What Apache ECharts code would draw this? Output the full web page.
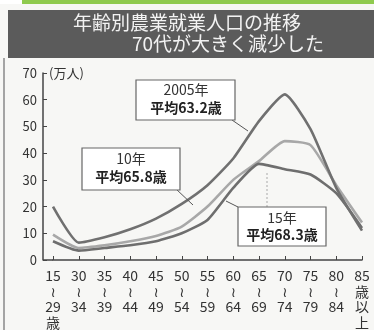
<!DOCTYPE html>
<html><head><meta charset="utf-8">
<script src="https://cdn.jsdelivr.net/npm/echarts@6/dist/echarts.min.js"></script>
<style>html,body{margin:0;padding:0;background:#f7f7f5;}#c{width:374px;height:330px;}</style>
</head><body><div id="c"></div>
<script>
const categories = ['15～29歳','30～34歳','35～39歳','40～44歳','45～49歳','50～54歳','55～59歳','60～64歳','65～69歳','70～74歳','75～79歳','80～84歳','85歳以上'];
const tickLabels = ['15\n≀\n29\n歳','30\n≀\n34','35\n≀\n39','40\n≀\n44','45\n≀\n49','50\n≀\n54','55\n≀\n59','60\n≀\n64','65\n≀\n69','70\n≀\n74','75\n≀\n79','80\n≀\n84','85\n歳\n以\n上'];
const y2005 = [20, 6.5, 8.5, 11.5, 15.5, 21, 28, 38, 52, 62, 49, 27, 11];
const y2010 = [9.5, 4.5, 5.5, 7, 9, 12.5, 20, 30, 37, 44.5, 43, 28, 14];
const y2015 = [7, 3.5, 4.5, 5.5, 7, 10, 15, 27, 36, 34, 32, 25, 12];
const yTicks = [0, 10, 20, 30, 40, 50, 60, 70];

const chart = echarts.init(document.getElementById('c'), null, {renderer: 'canvas'});
const jp = '"Noto Sans CJK JP", "DejaVu Sans", sans-serif';
function line(name, data, color, z) {
  return {
    name, type: 'line', data, symbol: 'none', smooth: 0.18, z,
    lineStyle: {color, width: 2.6}
  };
}
chart.setOption({
  animation: false,
  backgroundColor: '#f7f7f5',
  grid: {left: 53, right: 12, top: 73, bottom: 70, show: false},
  xAxis: {
    type: 'category', data: categories, boundaryGap: false,
    axisLine: {lineStyle: {color: '#444', width: 1.5}},
    axisTick: {inside: true, length: 4, lineStyle: {color: '#444'}, alignWithLabel: true},
    axisLabel: {
      interval: 0, margin: 8, fontFamily: jp, fontSize: 14, lineHeight: 15.5, color: '#333',
      formatter: (v, i) => tickLabels[i], verticalAlign: 'top'
    },
    splitLine: {show: false}
  },
  yAxis: {
    type: 'value', min: yTicks[0], max: yTicks[yTicks.length - 1], interval: 10, offset: 10,
    axisLine: {show: true, lineStyle: {color: '#444', width: 1.5}},
    axisTick: {show: true, inside: true, length: 4, lineStyle: {color: '#444'}},
    axisLabel: {fontFamily: jp, fontSize: 13, color: '#333', margin: 6},
    splitLine: {show: false}
  },
  series: [
    line('2010', y2010, '#a8a8a8', 2),
    line('2015', y2015, '#6e6e6e', 3),
    line('2005', y2005, '#707070', 4)
  ],
  graphic: [
    {type: 'rect', shape: {x: 0, y: 0, width: 374, height: 4}, style: {fill: '#ffffff'}, z: 0},
    {type: 'rect', shape: {x: 22, y: 0, width: 352, height: 4}, style: {fill: '#8fca4e'}, z: 1},
    {type: 'rect', shape: {x: 8, y: 10, width: 366, height: 48}, style: {fill: '#5b5b5b'}, z: 1},
    {type: 'text', x: 187, y: 23, style: {text: '年齢別農業就業人口の推移', fill: '#f2f2f2', font: '19px ' + jp, align: 'center', verticalAlign: 'middle'}, z: 2},
    {type: 'text', x: 228, y: 44, style: {text: '70代が大きく減少した', fill: '#f2f2f2', font: '19px ' + jp, align: 'center', verticalAlign: 'middle'}, z: 2},
    {type: 'line', shape: {x1: 4, y1: 58, x2: 4, y2: 330}, style: {stroke: '#888', lineWidth: 1.5}, z: 1},
    {type: 'line', shape: {x1: 43, y1: 260, x2: 53, y2: 260}, style: {stroke: '#444', lineWidth: 1.5}, z: 5},
    {type: 'text', x: 49, y: 73, style: {text: '(万人)', fill: '#333', font: '13px ' + jp, align: 'left', verticalAlign: 'middle'}, z: 5},
    {type: 'line', shape: {x1: 232, y1: 120, x2: 248, y2: 131}, style: {stroke: '#555', lineWidth: 1}, z: 6},
    {type: 'rect', shape: {x: 136, y: 80, width: 99, height: 40}, style: {fill: '#fff', stroke: '#666', lineWidth: 1.2}, z: 7},
    {type: 'text', x: 186, y: 90, style: {text: '2005年', fill: '#333', font: '14px ' + jp, align: 'center', verticalAlign: 'middle'}, z: 8},
    {type: 'text', x: 186, y: 108, style: {text: '平均63.2歳', fill: '#222', font: 'bold 14px ' + jp, align: 'center', verticalAlign: 'middle'}, z: 8},
    {type: 'line', shape: {x1: 176, y1: 189, x2: 193, y2: 205}, style: {stroke: '#555', lineWidth: 1}, z: 6},
    {type: 'rect', shape: {x: 82, y: 148, width: 98, height: 42}, style: {fill: '#fff', stroke: '#666', lineWidth: 1.2}, z: 7},
    {type: 'text', x: 131, y: 159, style: {text: '10年', fill: '#333', font: '14px ' + jp, align: 'center', verticalAlign: 'middle'}, z: 8},
    {type: 'text', x: 131, y: 177, style: {text: '平均65.8歳', fill: '#222', font: 'bold 14px ' + jp, align: 'center', verticalAlign: 'middle'}, z: 8},
    {type: 'line', shape: {x1: 238, y1: 207, x2: 226, y2: 201}, style: {stroke: '#555', lineWidth: 1}, z: 6},
    {type: 'line', shape: {x1: 267, y1: 173, x2: 267, y2: 207}, style: {stroke: '#aaa', lineWidth: 1, lineDash: [2, 2]}, z: 6},
    {type: 'rect', shape: {x: 238, y: 207, width: 88, height: 39}, style: {fill: '#fff', stroke: '#666', lineWidth: 1.2}, z: 7},
    {type: 'text', x: 282, y: 218, style: {text: '15年', fill: '#333', font: '14px ' + jp, align: 'center', verticalAlign: 'middle'}, z: 8},
    {type: 'text', x: 282, y: 235, style: {text: '平均68.3歳', fill: '#222', font: 'bold 14px ' + jp, align: 'center', verticalAlign: 'middle'}, z: 8}
  ]
});
</script></body></html>
